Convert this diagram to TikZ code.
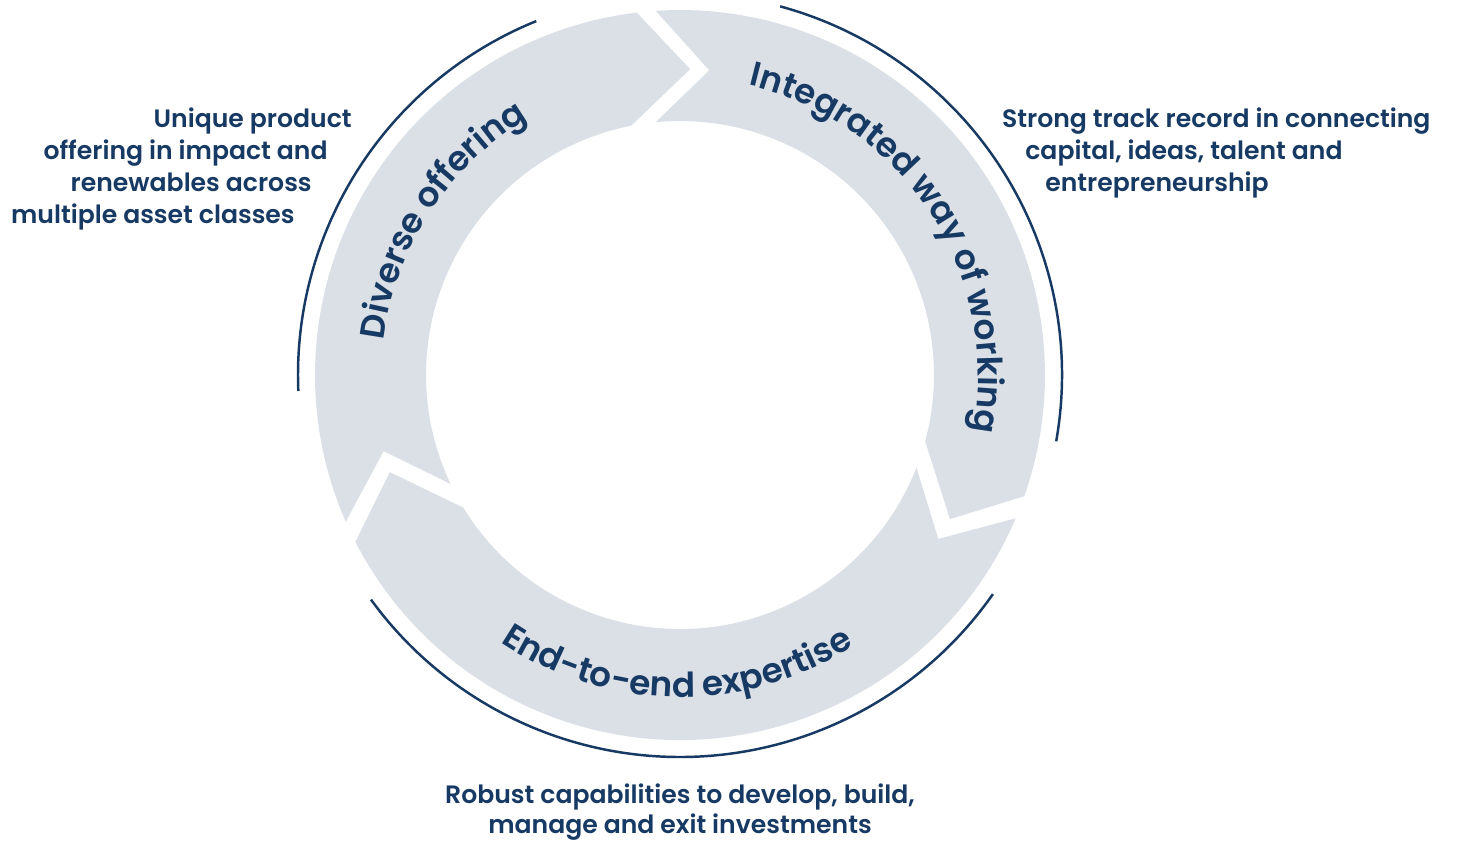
\documentclass[tikz,border=0pt]{standalone}
\usepackage{fontspec}
\setmainfont{Poppins}[BoldFont={Poppins SemiBold}]
\usetikzlibrary{decorations.text}
\definecolor{navy}{HTML}{173A64}
\definecolor{ringgray}{HTML}{DBE0E7}

\begin{document}
\begin{tikzpicture}[x=0.02cm, y=0.02cm]
    \tikzset{
        ring/.style = {fill=ringgray},
        rim/.style = {draw=navy, line width=1.4pt},
        note/.style = {text=navy, font=\fontsize{14.3}{18}\selectfont\bfseries, inner sep=0pt},
        curved/.style = {decorate, decoration={text along path, text align=center, text color=navy, text={|\fontsize{19.5}{20}\selectfont\bfseries|#1}}},
    }

    \path[fill=white, use as bounding box] (-680,-465) rectangle (778,375);

    % three arrow segments, tips pointing clockwise
    \path[ring] (203.7:365) arc[start angle=203.7, end angle=96.8, radius=365] -- (88.1:306) -- (101.1:254) arc[start angle=101.1, end angle=205.4, radius=254] -- (194.4:306) -- cycle;
    \path[ring] (93.8:365) arc[start angle=93.8, end angle=-19.4, radius=365] -- (-28.1:306) -- (-15.1:254) arc[start angle=-15.1, end angle=95.5, radius=254] -- (84.5:306) -- cycle;
    \path[ring] (-23.1:365) arc[start angle=-23.1, end angle=-152.8, radius=365] -- (-161.5:306) -- (-148.5:254) arc[start angle=-148.5, end angle=-21.4, radius=254] -- (-32.4:306) -- cycle;

    \path[curved={Diverse offering}] (197:298) arc[start angle=197, end angle=97, radius=298];
    \path[curved={Integrated way of working}] (87.9:298) arc[start angle=87.9, end angle=-22.1, radius=298];
    \path[curved={End-to-end expertise}] (214.4:322) arc[start angle=214.4, end angle=324.4, radius=322];

    % thin outer rims
    \draw[rim] (182.4:382) arc[start angle=182.4, end angle=112.1, radius=382];
    \draw[rim] (74.8:382) arc[start angle=74.8, end angle=-10, radius=382];
    \draw[rim] (216:382) arc[start angle=216, end angle=325, radius=382];

    \node[note, anchor=base east](unique1) at (-328,247.7) {Unique product};
    \node[note, anchor=base east](unique2) at (-352,215.2) {offering in impact and};
    \node[note, anchor=base east](unique3) at (-368,183.3) {renewables across};
    \node[note, anchor=base east](unique4) at (-385,151.7) {multiple asset classes};

    \node[note, anchor=base west](strong1) at (321.7,247.7) {Strong track record in connecting};
    \node[note, anchor=base west](strong2) at (345,215.5) {capital, ideas, talent and};
    \node[note, anchor=base west](strong3) at (365,183.3) {entrepreneurship};

    \node[note, anchor=base](robust1) at (0,-428.3) {Robust capabilities to develop, build,};
    \node[note, anchor=base](robust2) at (0,-458.3) {manage and exit investments};

\end{tikzpicture}
\end{document}
